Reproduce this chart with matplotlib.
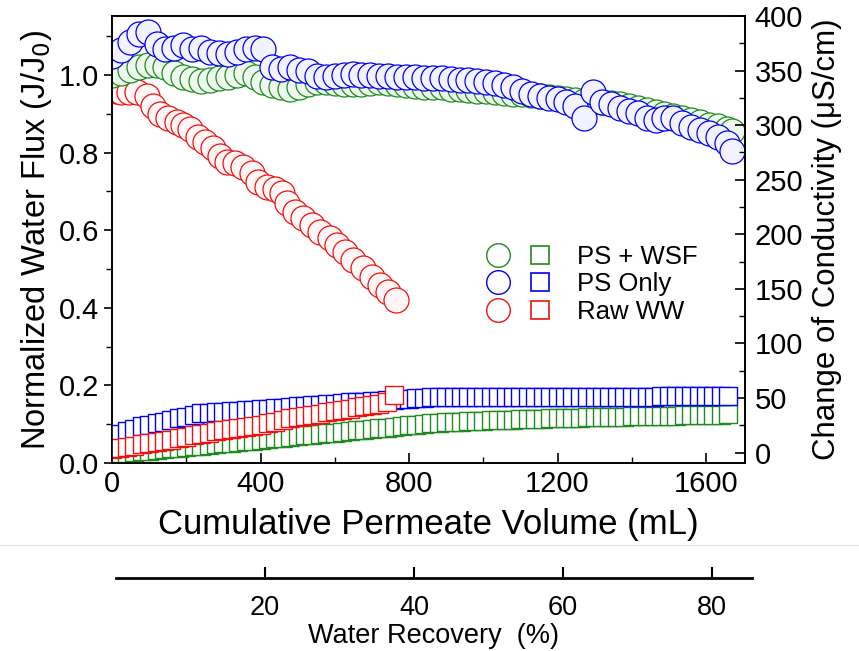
import numpy as np
import matplotlib
matplotlib.use("Agg")
import matplotlib.pyplot as plt
from matplotlib.lines import Line2D
from matplotlib.legend_handler import HandlerTuple

plt.rcParams["font.family"] = ["Liberation Sans", "DejaVu Sans"]

# =========================
# data
# =========================
# normalized flux, circles
vol_flux = [0, 24, 48, 72, 96, 120, 144, 168, 192, 216, 240, 264, 288, 312, 336, 360, 384, 408,
            432, 456, 480, 504, 528, 552, 576, 600, 624, 648, 672, 696, 720, 744, 768, 792, 816,
            840, 864, 888, 912, 936, 960, 984, 1008, 1032, 1056, 1080, 1104, 1128, 1152, 1176,
            1200, 1224, 1248, 1272, 1296, 1320, 1344, 1368, 1392, 1416, 1440, 1464, 1488, 1512,
            1536, 1560, 1584, 1608, 1632, 1656, 1670]
flux_wsf = [1.0, 1.005, 1.012, 1.02, 1.025, 1.027, 1.02, 1.006, 0.996, 0.99,
            0.985, 0.988, 0.993, 0.996, 1.0, 1.006, 0.996, 0.983, 0.975, 0.968,
            0.965, 0.97, 0.978, 0.983, 0.982, 0.98, 0.978, 0.978, 0.976, 0.98,
            0.982, 0.98, 0.978, 0.975, 0.972, 0.97, 0.968, 0.968, 0.965, 0.963,
            0.962, 0.96, 0.958, 0.956, 0.954, 0.952, 0.95, 0.948, 0.945, 0.942,
            0.94, 0.937, 0.935, 0.932, 0.93, 0.93, 0.928, 0.925, 0.92, 0.915,
            0.91, 0.905, 0.9, 0.895, 0.89, 0.885, 0.878, 0.872, 0.868, 0.862,
            0.855]
flux_ps = [1.05, 1.065, 1.085, 1.105, 1.11, 1.08, 1.066, 1.07, 1.078, 1.066,
           1.07, 1.06, 1.056, 1.053, 1.06, 1.066, 1.07, 1.066, 1.02, 1.016,
           1.02, 1.014, 1.01, 0.998, 0.995, 0.998, 1.0, 1.002, 1.0, 1.0,
           0.998, 0.998, 0.996, 0.995, 0.995, 0.993, 0.993, 0.992, 0.99, 0.988,
           0.986, 0.984, 0.982, 0.98, 0.975, 0.968, 0.958, 0.95, 0.945, 0.94,
           0.937, 0.93, 0.92, 0.89, 0.955, 0.93, 0.924, 0.916, 0.906, 0.903,
           0.89, 0.885, 0.89, 0.89, 0.877, 0.867, 0.859, 0.85, 0.84, 0.825,
           0.805]

vol_raw = [0, 12, 25, 45, 67, 94, 110, 129, 151, 175, 191, 210, 232, 251, 272, 291, 310, 331,
           353, 377, 394, 418, 439, 458, 472, 493, 515, 539, 561, 588, 606, 628, 650, 677,
           701, 722, 744, 765]
flux_raw = [1.00, 0.96, 0.957, 0.957, 0.955, 0.945, 0.92, 0.90, 0.89, 0.88,
            0.87, 0.86, 0.84, 0.826, 0.813, 0.79, 0.777, 0.774, 0.764, 0.748,
            0.725, 0.712, 0.705, 0.697, 0.67, 0.648, 0.632, 0.614, 0.596, 0.58,
            0.563, 0.545, 0.524, 0.503, 0.48, 0.46, 0.44, 0.42]

# conductivity change, squares
vol_cond = [0, 20, 40, 60, 80, 100, 120, 140, 160, 180, 200, 220, 240, 260, 280, 300, 320, 340,
            360, 380, 400, 420, 440, 460, 480, 500, 520, 540, 560, 580, 600, 620, 640, 660,
            680, 700, 720, 740, 760, 780, 800, 820, 840, 860, 880, 900, 920, 940, 960, 980,
            1000, 1020, 1040, 1060, 1080, 1100, 1120, 1140, 1160, 1180, 1200, 1220, 1240,
            1260, 1280, 1300, 1320, 1340, 1360, 1380, 1400, 1420, 1440, 1460, 1480, 1500,
            1520, 1540, 1560, 1580, 1600, 1620, 1640, 1660]
cond_wsf = [-1.4, -0.7, -0.1, 0.6, 1.2, 1.9, 2.6, 3.2, 3.9, 4.5,
            5.2, 5.9, 6.5, 7.2, 7.8, 8.5, 9.2, 9.8, 10.5, 11.1,
            11.8, 12.5, 13.1, 13.8, 14.4, 15.1, 15.8, 16.4, 17.1, 17.7,
            18.4, 19.1, 19.7, 20.4, 21.0, 21.7, 22.4, 23.0, 23.7, 24.3,
            25.0, 25.7, 26.3, 26.9, 27.3, 27.7, 28.0, 28.3, 28.6, 28.9,
            29.2, 29.5, 29.8, 30.0, 30.3, 30.5, 30.7, 30.9, 31.1, 31.3,
            31.5, 31.7, 31.9, 32.0, 32.2, 32.4, 32.5, 32.7, 32.9, 33.0,
            33.2, 33.3, 33.5, 33.6, 33.8, 33.9, 34.0, 34.2, 34.3, 34.4,
            34.6, 34.7, 34.8, 35.0]
cond_ps = [15, 17.5, 20, 22, 24, 25.5, 27, 28.5, 30, 31.5,
           33, 34.5, 36, 36.5, 37, 37.5, 38, 38.3, 38.7, 39.2,
           39.6, 40, 40.6, 41.2, 41.8, 42.4, 43, 43.5, 44, 44.5,
           45, 45.5, 46, 46.4, 46.8, 47.2, 47.6, 48, 48.4, 48.8,
           49.4, 50, 50.4, 50.7, 51, 51, 51, 51.1, 51.1, 51.1,
           51.1, 51.1, 51.2, 51.2, 51.2, 51.2, 51.2, 51.2, 51.3, 51.3,
           51.3, 51.3, 51.3, 51.3, 51.3, 51.3, 51.4, 51.4, 51.4, 51.4,
           51.4, 51.4, 51.4, 51.4, 51.5, 51.5, 51.5, 51.5, 51.5, 51.5,
           51.5, 51.5, 51.5, 51.5]

vol_cond_raw = vol_cond[:39]
cond_raw = [3, 4, 5, 6.2, 7.5, 8.6, 9.6, 10.6, 11.8, 13,
            14.5, 16, 17.2, 18.4, 19.6, 20.7, 21.7, 22.7, 23.7, 24.7,
            25.7, 26.8, 28.3, 29.8, 31.3, 32.6, 33.7, 34.8, 35.8, 36.8,
            37.8, 39, 40.3, 41.5, 42.7, 44, 45, 46, 53]

recovery_ticks = [20, 40, 60, 80]

green = "#1f8a1f"
blue = "#0000f0"
red = "#f01010"

# =========================
# figure
# =========================
fig = plt.figure(figsize=(8.59, 6.51), dpi=100)
ax = fig.add_axes([112 / 859, 1 - 463 / 651, 633 / 859, 447 / 651])
ax2 = ax.twinx()

circ = dict(marker="o", linestyle="none", markersize=18, markeredgewidth=0.9)
sq = dict(marker="s", linestyle="none", markersize=12.5, markeredgewidth=1.0)

ax.plot(vol_raw, flux_raw, color=red, markerfacecolor="#fff6f6", **circ)
ax.plot(vol_flux, flux_wsf, color=green, markerfacecolor="#eef8ee", **circ)
ax.plot(vol_flux, flux_ps, color=blue, markerfacecolor="#f3f3ff", **circ)

ax2.plot(vol_cond, cond_wsf, color=green, markerfacecolor="white", **sq)
ax2.plot(vol_cond, cond_ps, color=blue, markerfacecolor="white", **sq)
ax2.plot(vol_cond_raw, cond_raw, color=red, markerfacecolor="white", **sq)

ax.set_xlim(0, 1705)
ax.set_ylim(0, 1.152)
ax2.set_ylim(-9.5, 400)

ax.set_xticks([0, 400, 800, 1200, 1600])
ax.set_xticks([200, 600, 1000, 1400], minor=True)
ax.set_yticks([0.0, 0.2, 0.4, 0.6, 0.8, 1.0])
ax.set_yticks([0.1, 0.3, 0.5, 0.7, 0.9, 1.1], minor=True)
ax.set_yticklabels(["0.0", "0.2", "0.4", "0.6", "0.8", "1.0"])
ax2.set_yticks([0, 50, 100, 150, 200, 250, 300, 350, 400])
ax2.set_yticks([25, 75, 125, 175, 225, 275, 325, 375], minor=True)

for a in (ax, ax2):
    for s in a.spines.values():
        s.set_linewidth(1.2)

ax.tick_params(axis="x", which="both", direction="in", labelsize=21, pad=5)
ax.tick_params(axis="x", which="major", length=7, width=1.2)
ax.tick_params(axis="x", which="minor", length=4, width=1.0)
ax.tick_params(axis="y", which="both", direction="out", labelsize=21, pad=3)
ax.tick_params(axis="y", which="major", length=6, width=1.2)
ax.tick_params(axis="y", which="minor", length=4, width=1.0)
ax2.tick_params(axis="y", which="both", direction="in", labelsize=21, pad=7)
ax2.tick_params(axis="y", which="major", length=7, width=1.2)
ax2.tick_params(axis="y", which="minor", length=4, width=1.0)

ax.set_xlabel("Cumulative Permeate Volume (mL)", fontsize=25, labelpad=7)
ax.set_ylabel("Normalized Water Flux (J/J$_0$)", fontsize=23.5, labelpad=4)
ax2.set_ylabel("Change of Conductivity (\u03bcS/cm)", fontsize=22.5, labelpad=6)

# legend: circle + square per row
rows = [("PS + WSF", green), ("PS Only", blue), ("Raw WW", red)]
handles = []
for name, c in rows:
    h_c = Line2D([], [], color=c, marker="o", linestyle="none", markersize=17,
                 markerfacecolor="white", markeredgewidth=1.0)
    h_s = Line2D([], [], color=c, marker="s", linestyle="none", markersize=13,
                 markerfacecolor="white", markeredgewidth=1.2)
    handles.append((h_c, h_s))
ax.legend(handles, [r[0] for r in rows],
          handler_map={tuple: HandlerTuple(ndivide=None, pad=0.8)},
          frameon=False, fontsize=18.5, handlelength=2.5, handletextpad=1.0,
          labelspacing=0.14, loc="upper left", bbox_to_anchor=(0.556, 0.54))

# =========================
# secondary axis: water recovery
# =========================
axr = fig.add_axes([116 / 859, 1 - 578 / 651, 636 / 859, 0.0001])
axr.patch.set_visible(False)
for k in ("top", "left", "right"):
    axr.spines[k].set_visible(False)
axr.spines["bottom"].set_linewidth(2.0)
axr.set_xlim(0, 85.4)
axr.set_yticks([])
axr.set_xticks(recovery_ticks)
axr.tick_params(axis="x", direction="in", length=8, width=1.5, pad=12, labelsize=19.5)
axr.set_xlabel("Water Recovery  (%)", fontsize=19.5, labelpad=2)

# faint separator between panels
fig.add_artist(Line2D([0, 1], [1 - 545 / 651, 1 - 545 / 651], transform=fig.transFigure,
                      color="#e4e4e4", linewidth=1.0))

plt.savefig("out.png", dpi=100)
